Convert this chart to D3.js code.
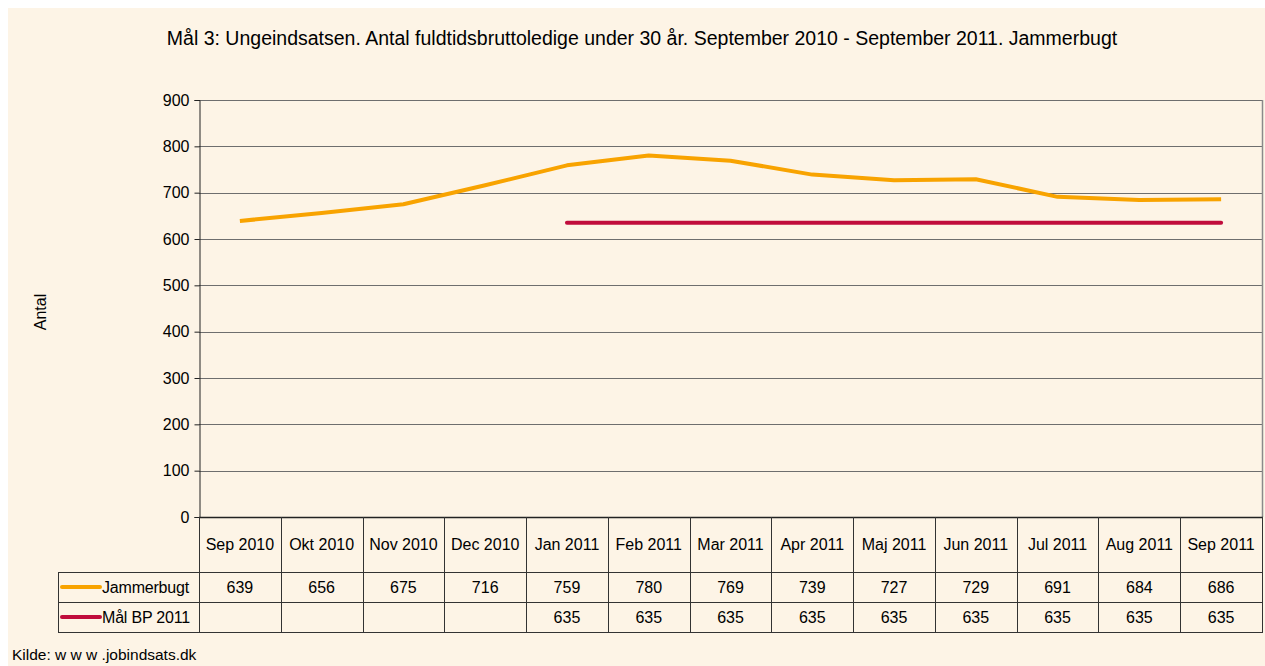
<!DOCTYPE html>
<html>
<head>
<meta charset="utf-8">
<script src="https://cdn.jsdelivr.net/npm/d3@7"></script>
<style>
  body { margin: 0; background: #fff; }
  #plot { width: 1265px; height: 666px; }
  text { font-family: "Liberation Sans", Arial, sans-serif; fill: #000; }
</style>
</head>
<body>
<div id="plot"></div>
<script>
// Chart data
const months = ['Sep 2010', 'Okt 2010', 'Nov 2010', 'Dec 2010', 'Jan 2011', 'Feb 2011', 'Mar 2011',
  'Apr 2011', 'Maj 2011', 'Jun 2011', 'Jul 2011', 'Aug 2011', 'Sep 2011'];
const jammerbugt = [639, 656, 675, 716, 759, 780, 769, 739, 727, 729, 691, 684, 686];
const maal = [null, null, null, null, 635, 635, 635, 635, 635, 635, 635, 635, 635];
const yTicks = [0, 100, 200, 300, 400, 500, 600, 700, 800, 900];
const seriesNames = ['Jammerbugt', 'Mål BP 2011'];
const seriesColors = ['#F8A300', '#C00C3C'];

function drawChart() {
  const W = 1265, H = 666;
  const svg = d3.select('#plot').append('svg').attr('width', W).attr('height', H);

  // cream background with a thin white margin top/left
  svg.append('rect').attr('x', 8).attr('y', 8).attr('width', W - 8).attr('height', H - 8).attr('fill', '#FDF4E6');

  const left = 199, right = 1262, top = 100, bottom = 517;
  const x = d3.scaleBand().domain(months).range([left, right]);
  const y = d3.scaleLinear().domain([0, 900]).range([bottom, top]);

  // gridlines
  svg.append('g').selectAll('line').data(yTicks.filter(d => d > 0)).join('line')
    .attr('x1', left).attr('x2', right)
    .attr('y1', d => Math.round(y(d)) + 0.5).attr('y2', d => Math.round(y(d)) + 0.5)
    .attr('stroke', '#6e6e6e').attr('stroke-width', 1);

  // right border of plot area
  svg.append('line').attr('x1', right + 0.5).attr('x2', right + 0.5).attr('y1', top).attr('y2', bottom)
    .attr('stroke', '#8a8a8a').attr('stroke-width', 1.5);

  // y axis
  const yAxis = d3.axisLeft(y).tickValues(yTicks).tickSize(5).tickPadding(5);
  const yg = svg.append('g').attr('transform', `translate(${left + 0.5},0)`).call(yAxis);
  yg.select('.domain').attr('stroke', '#222');
  yg.selectAll('.tick line').attr('stroke', '#222');
  yg.selectAll('text').style('font-size', '16px').attr('fill', '#000')
    .style('font-family', '"Liberation Sans", Arial, sans-serif');

  // lines
  const line = d3.line()
    .defined(d => d.v != null)
    .x(d => x(d.m) + x.bandwidth() / 2)
    .y(d => y(d.v));

  svg.append('path')
    .datum(months.map((m, i) => ({ m, v: maal[i] })))
    .attr('fill', 'none').attr('stroke', seriesColors[1]).attr('stroke-width', 4)
    .attr('stroke-linecap', 'round').attr('d', line);

  svg.append('path')
    .datum(months.map((m, i) => ({ m, v: jammerbugt[i] })))
    .attr('fill', 'none').attr('stroke', seriesColors[0]).attr('stroke-width', 4)
    .attr('stroke-linejoin', 'round').attr('d', line);

  // x axis line at 0
  svg.append('line').attr('x1', left).attr('x2', right + 1).attr('y1', bottom + 0.5).attr('y2', bottom + 0.5)
    .attr('stroke', '#222').attr('stroke-width', 1.5);

  // data table
  const rowH = [bottom, 572, 602, 632];
  const legendLeft = 58;
  const tbl = svg.append('g').attr('stroke', '#333').attr('stroke-width', 1);
  // vertical cell lines
  const bounds = months.map(m => x(m)).concat([right]);
  tbl.selectAll('line.v').data(bounds).join('line').attr('class', 'v')
    .attr('x1', d => Math.round(d) + 0.5).attr('x2', d => Math.round(d) + 0.5)
    .attr('y1', rowH[0]).attr('y2', rowH[3]);
  tbl.append('line').attr('x1', legendLeft + 0.5).attr('x2', legendLeft + 0.5).attr('y1', rowH[1]).attr('y2', rowH[3]);
  // horizontal lines
  [rowH[1], rowH[2], rowH[3]].forEach(yy => {
    tbl.append('line').attr('x1', legendLeft).attr('x2', right + 1).attr('y1', yy + 0.5).attr('y2', yy + 0.5);
  });

  // header labels
  svg.append('g').selectAll('text').data(months).join('text')
    .attr('x', d => x(d) + x.bandwidth() / 2).attr('y', (rowH[0] + rowH[1]) / 2)
    .attr('dy', '0.35em').attr('text-anchor', 'middle').style('font-size', '16px').text(d => d);

  const rows = [jammerbugt, maal];
  rows.forEach((vals, r) => {
    const cy = (rowH[r + 1] + rowH[r + 2]) / 2;
    svg.append('g').selectAll('text').data(months.map((m, i) => ({ m, v: vals[i] })).filter(d => d.v != null)).join('text')
      .attr('x', d => x(d.m) + x.bandwidth() / 2).attr('y', cy)
      .attr('dy', '0.35em').attr('text-anchor', 'middle').style('font-size', '16px').text(d => d.v);
    // legend key
    svg.append('line').attr('x1', 62).attr('x2', 100).attr('y1', cy).attr('y2', cy)
      .attr('stroke', seriesColors[r]).attr('stroke-width', 4).attr('stroke-linecap', 'round');
    svg.append('text').attr('x', 102).attr('y', cy).attr('dy', '0.35em')
      .style('font-size', '16px').style('letter-spacing', '-0.2px').text(seriesNames[r]);
  });

  // title
  svg.append('text').attr('x', 642).attr('y', 45).attr('text-anchor', 'middle')
    .style('font-size', '19.5px')
    .text('Mål 3: Ungeindsatsen. Antal fuldtidsbruttoledige under 30 år. September 2010 - September 2011. Jammerbugt');

  // y label
  svg.append('text').attr('transform', 'translate(40,312) rotate(-90)').attr('dy', '0.35em')
    .attr('text-anchor', 'middle').style('font-size', '16px').text('Antal');

  // source
  svg.append('text').attr('x', 12).attr('y', 655).attr('dy', '0.35em')
    .style('font-size', '15.5px').text('Kilde: w w w .jobindsats.dk');
}

drawChart();
</script>
</body>
</html>
